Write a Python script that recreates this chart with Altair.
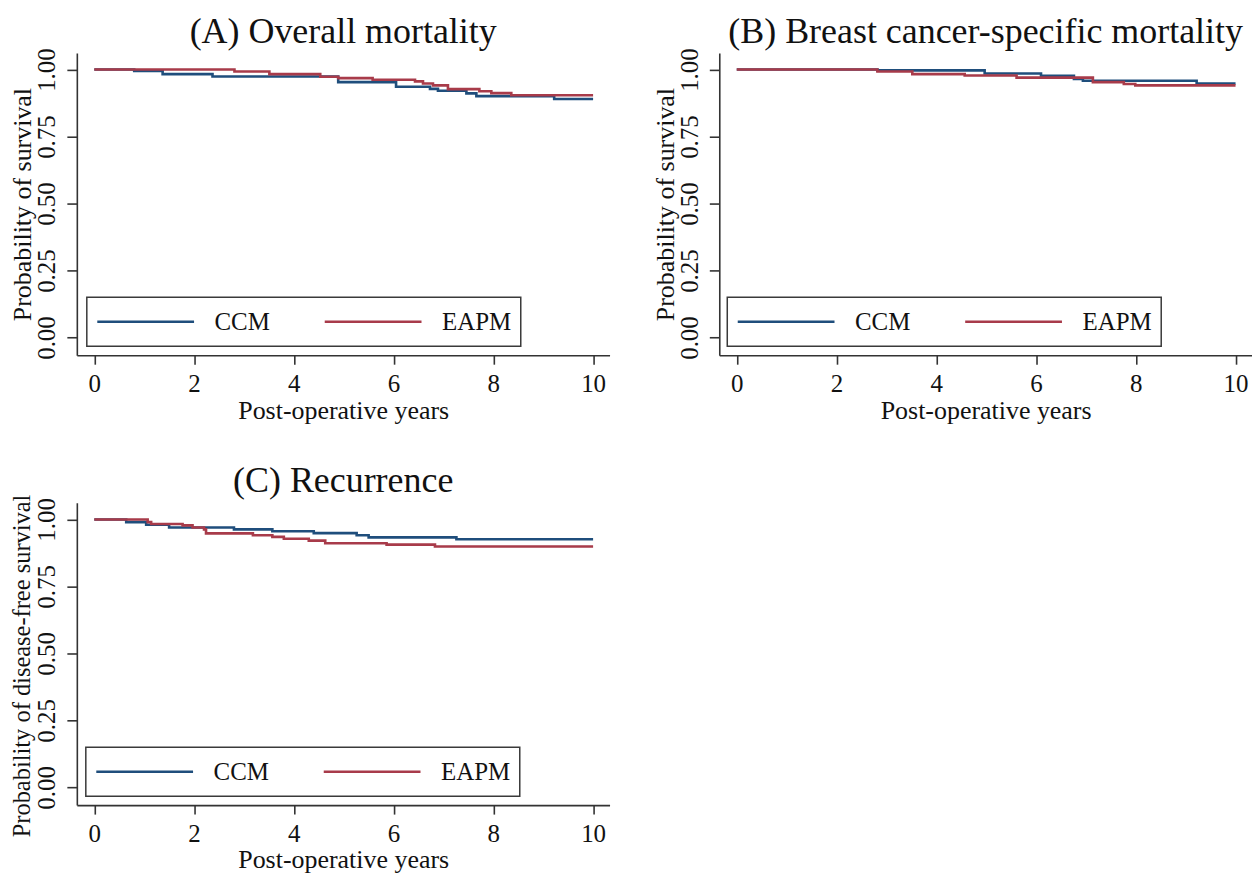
import altair as alt
import pandas as pd

FONT = "Liberation Serif"
GROUPS = ["CCM", "EAPM"]
COLORS = ["#1f4e7c", "#a83b4a"]

X_TICKS = [0, 2, 4, 6, 8, 10]
Y_TICKS = [0, 0.25, 0.5, 0.75, 1.0]
X_DOMAIN = [-0.35, 10.33]
Y_DOMAIN = [-0.066, 1.062]

# (A) Overall mortality
A_CCM_T = [0, 0.8, 1.37, 2.37, 4.89, 6.05, 6.73, 6.89, 7.46, 7.66, 9.22, 10]
A_CCM_S = [1.0, 0.995, 0.983, 0.974, 0.953, 0.936, 0.928, 0.921, 0.911, 0.901, 0.890, 0.890]
A_EAPM_T = [0, 2.81, 3.51, 4.53, 4.89, 5.58, 6.43, 6.59, 6.79, 7.09, 7.72, 7.96, 8.36, 10]
A_EAPM_S = [1.0, 0.993, 0.983, 0.973, 0.968, 0.962, 0.956, 0.948, 0.941, 0.927, 0.919, 0.912, 0.904, 0.904]

# (B) Breast cancer-specific mortality
B_CCM_T = [0, 2.82, 4.97, 6.1, 6.76, 6.94, 9.22, 10]
B_CCM_S = [1.0, 0.997, 0.985, 0.977, 0.965, 0.958, 0.948, 0.948]
B_EAPM_T = [0, 2.82, 3.52, 4.57, 5.61, 7.14, 7.76, 7.99, 10]
B_EAPM_S = [1.0, 0.993, 0.983, 0.978, 0.970, 0.953, 0.946, 0.941, 0.941]

# (C) Recurrence
C_CCM_T = [0, 0.64, 1.04, 1.5, 2.8, 3.57, 4.4, 5.26, 5.5, 7.26, 10]
C_CCM_S = [1.0, 0.990, 0.980, 0.970, 0.963, 0.956, 0.949, 0.941, 0.933, 0.926, 0.926]
C_EAPM_T = [0, 1.07, 1.14, 1.77, 1.97, 2.2, 2.24, 3.18, 3.57, 3.8, 4.3, 4.63, 5.86, 6.83, 10]
C_EAPM_S = [1.0, 0.990, 0.983, 0.978, 0.970, 0.963, 0.948, 0.941, 0.935, 0.928, 0.921, 0.911, 0.906, 0.899, 0.899]


def km_frame(ccm_t, ccm_s, eapm_t, eapm_s):
    rows = [{"t": t, "s": s, "g": "CCM"} for t, s in zip(ccm_t, ccm_s)]
    rows += [{"t": t, "s": s, "g": "EAPM"} for t, s in zip(eapm_t, eapm_s)]
    return pd.DataFrame(rows)


def panel(df, title, ytitle, legend_x, title_offset, ytitle_size, ytitle_y):
    return alt.Chart(df).mark_line(interpolate="step-after", strokeWidth=2.6).encode(
        x=alt.X("t:Q",
                scale=alt.Scale(domain=X_DOMAIN, nice=False, zero=False),
                axis=alt.Axis(values=X_TICKS, title="Post-operative years", tickSize=9,
                              labelPadding=7, labelFlush=False, labelOverlap=False,
                              titleY=63, titleBaseline="alphabetic")),
        y=alt.Y("s:Q",
                scale=alt.Scale(domain=Y_DOMAIN, nice=False, zero=False),
                axis=alt.Axis(values=Y_TICKS, format=".2f", title=ytitle, tickSize=10,
                              labelAngle=270, labelAlign="center", labelBaseline="bottom",
                              labelPadding=7, labelFlush=False, labelOverlap=False,
                              titleAngle=270, titleX=-54, titleY=ytitle_y,
                              titleFontSize=ytitle_size,
                              titleBaseline="middle", titleAlign="center")),
        color=alt.Color("g:N",
                        scale=alt.Scale(domain=GROUPS, range=COLORS),
                        legend=alt.Legend(title=None, orient="none", legendX=legend_x, legendY=245,
                                          direction="horizontal", symbolType="stroke",
                                          symbolSize=9409, symbolStrokeWidth=2.6,
                                          labelFont=FONT, labelFontSize=25, labelColor="#111111",
                                          labelOffset=19, columnPadding=53, padding=9,
                                          clipHeight=31, strokeColor="#3a3a3a",
                                          fillColor="#ffffff", cornerRadius=0)),
    ).properties(
        width=534, height=303,
        title=alt.TitleParams(title, font=FONT, fontSize=36, fontWeight="normal",
                              color="#111111", anchor="middle", frame="group",
                              offset=title_offset),
    )


pa = panel(km_frame(A_CCM_T, A_CCM_S, A_EAPM_T, A_EAPM_S),
           "(A) Overall mortality", "Probability of survival", 10, -3, 26, 151.5)
pb = panel(km_frame(B_CCM_T, B_CCM_S, B_EAPM_T, B_EAPM_S),
           "(B) Breast cancer-specific mortality", "Probability of survival", 8, -3, 26, 151.5)
pc = panel(km_frame(C_CCM_T, C_CCM_S, C_EAPM_T, C_EAPM_S),
           "(C) Recurrence", "Probability of disease-free survival", 9, -6, 24.5, 163)

chart = alt.concat(
    pa, pb, pc, columns=2, spacing={"row": 148, "column": 110}, bounds="flush"
).resolve_scale(color="independent").resolve_legend(color="independent").properties(
    padding={"left": 1, "top": 4, "right": 0, "bottom": 0},
    background="#ffffff",
).configure_view(stroke=None).configure_axis(
    grid=False,
    domainColor="#333333", domainWidth=1.6,
    tickColor="#333333", tickWidth=1.6,
    labelFont=FONT, labelFontSize=25, labelColor="#111111",
    titleFont=FONT, titleFontSize=26, titleFontWeight="normal", titleColor="#111111",
).configure_legend(strokeWidth=1.5)

chart.save("out.html", embed_options={"renderer": "svg", "actions": False})
